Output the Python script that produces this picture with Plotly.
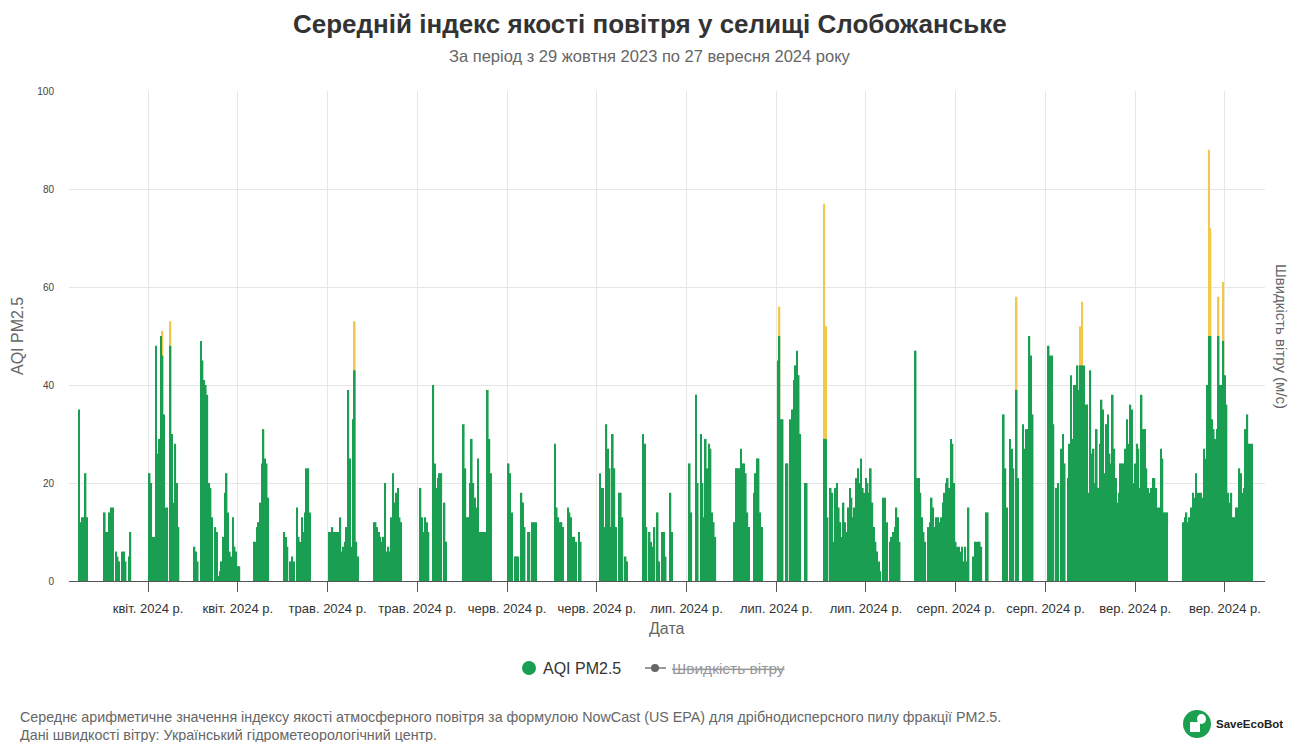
import pandas as pd
import plotly.graph_objects as go

# canvas and plot area (pixels): plot spans x 69..1265, y 91..581
W, H = 1291, 742
L, R, T, B = 69, 26, 91, 161

GREEN = "#1a9f52"
YELLOW = "#f2c84b"
FONT = "Liberation Sans, Arial, sans-serif"
STEP = "6h"

# --- data (AQI PM2.5, 6-hour samples, None = no data) ---
segment_starts = [
    "2024-03-28 06:00", "2024-04-01 06:00", "2024-04-08 06:00", "2024-04-15 06:00",
    "2024-04-16 06:00", "2024-04-24 12:00", "2024-04-29 06:00", "2024-05-06 06:00",
    "2024-05-13 06:00", "2024-05-20 12:00", "2024-05-27 06:00", "2024-06-03 06:00",
    "2024-06-10 12:00", "2024-06-17 12:00", "2024-06-24 06:00", "2024-07-01 12:00",
    "2024-07-08 12:00", "2024-07-15 06:00", "2024-07-22 12:00", "2024-08-05 18:00",
    "2024-08-19 12:00", "2024-08-26 12:00", "2024-09-16 12:00",
]
aqi_by_segment = [
    [35, 12, 13, 13, 22, 13],
    [14, 10, 10, 14, 15, 15, None, 6, 5, 4, None, 6, 6, 4, None, 5, 10],
    [22, 20, 9, 9, 48, 26, 29, 50, 46, 34, 15, 15, None, 48, 30, 16, 28, 20, 11],
    [7, 6, 4],
    [49, 45, 41, 40, 38, 20, 19, 13, None, 11, 10, 1, 2, 4, 9, 18, 22, 14, 6, 5, 13, 7, 6, 3, 3],
    [8, 8, 11, 12, 16, 24, 31, 25, 24, 17],
    [10, 9, 7, None, 4, 5, 4, None, 15, 9, 8, 13, 10, 14, 23, 23, 14],
    [10, 10, 11, 10, 10, 10, 10, 13, 6, 7, 8, 11, 39, 25, 7, 33, 43, 8, 5],
    [12, 12, 11, 10, 9, 8, 9, 20, 6, 7, 6, 13, 22, 16, 18, 19, 13, 12],
    [19, 13, 10, 13, 12, 10, None, None, 40, 24, 19, 21, 22, 22, None, 16, 8],
    [32, 23, 13, 13, 20, 29, 20, 17, 15, 25, 10, 10, 10, 10, 10, 39, 29, 22],
    [24, 22, 14, None, 5, 5, 5, None, 18, 16, 11, None, 10, 10, None, 12, 12, 12],
    [28, 15, 13, 12, 12, 11, None, None, 15, 14, 13, 9, 9, 8, None, 10, 8],
    [22, 19, 19, 11, 32, 27, 23, 11, 30, 23, 11, None, 18, 18, 13, None, 5, 4],
    [30, 28, 11, None, 10, 8, 7, 11, None, 14, 4, None, 10, 10, 5, None, None, 18, 10],
    [24, 14, None, None, 38, 20, None, 30, 20, 13, 29, 23, 28, 27, 14, 12, 9],
    [12, 23, 23, 23, 27, 24, 24, 22, 14, 11, None, None, 18, 22, 25, 25, 14, 11],
    [45, 50, 33, 33, None, 24, 24, None, 33, 35, 41, 44, 47, 42, 30, None, None, 20, 20],
    [29, 29, 13, None, 19, 18, 8, 19, 20, 15, 12, 9, 16, 12, 10, 15, 19, 17, 13, 15,
     21, 23, 20, 25, 19, 18, 21, 20, 18, 23, 16, 11, 8, 6, 4, 2, None, 17, 17, 12,
     None, 8, 9, 10, 11, 15, 13, 8],
    [47, 21, 21, 18, 13, 10, 8, None, 11, 12, 17, 15, 11, 13, 13, 12, 13, 16, 18, 20,
     21, 19, 29, 28, 20, 8, 7, 7, 6, 7, 4, 7, 4, 15, None, None, 5, 8, 8, 8,
     8, 7, None, None, 14, 14],
    [34, 23, 15, None, 29, 27, 23, None, 39, 21, None, None, 32, 27, 31, 31, 50, 46, 34],
    [48, 46, 46, 32, None, 19, 20, None, 27, 30, 24, None, 21, 28, 42, 29, 40, 40, 44, 39,
     44, 44, 44, 36, 36, 18, 43, 26, 27, 20, 31, 19, 28, 37, 35, 22, 32, 34, 26, 24,
     38, 27, 21, 16, 18, 24, 24, 24, 27, 33, 28, 36, 35, 20, 24, 28, 27, 19, 38, 31,
     31, 23, 19, 18, 19, 21, 21, 19, 15, 15, 27, 25, 14, 14, 14],
    [12, 13, 14, 12, 13, 15, 18, 17, 22, 18, 18, 18, 17, 27, 25, 40, 50, 50, 33, 31,
     29, 31, 50, 40, 40, 49, 42, 36, 18, 16, 18, 13, 13, 15, 15, 23, 22, 18, 19, 31,
     34, 28, 28, 28],
]

# samples above 50 (moderate zone) drawn in yellow behind the green bars
peak_dates = [
    "2024-04-10 06:00", "2024-04-11 12:00", "2024-05-10 06:00", "2024-07-15 12:00",
    "2024-07-22 12:00", "2024-07-22 18:00", "2024-08-21 12:00", "2024-08-31 12:00",
    "2024-08-31 18:00", "2024-09-20 12:00", "2024-09-20 18:00", "2024-09-22 00:00",
    "2024-09-22 18:00",
]
peak_values = [51, 53, 53, 56, 77, 52, 58, 52, 57, 88, 72, 58, 61]

tick_dates = ["2024-04-08", "2024-04-22", "2024-05-06", "2024-05-20", "2024-06-03",
              "2024-06-17", "2024-07-01", "2024-07-15", "2024-07-29", "2024-08-12",
              "2024-08-26", "2024-09-09", "2024-09-23"]
tick_labels = ["квіт. 2024 р.", "квіт. 2024 р.", "трав. 2024 р.", "трав. 2024 р.",
               "черв. 2024 р.", "черв. 2024 р.", "лип. 2024 р.", "лип. 2024 р.",
               "лип. 2024 р.", "серп. 2024 р.", "серп. 2024 р.", "вер. 2024 р.",
               "вер. 2024 р."]

x_vals, y_vals = [], []
for start, vals in zip(segment_starts, aqi_by_segment):
    x_vals += list(pd.date_range(start, periods=len(vals), freq=STEP))
    y_vals += vals

bar_w = pd.Timedelta(STEP).total_seconds() * 1000


def px(x):
    return (x - L) / (W - L - R)


def py(y):
    return (H - B - y) / (H - T - B)


fig = go.Figure()
fig.add_trace(go.Bar(
    x=pd.to_datetime(peak_dates), y=peak_values, width=bar_w,
    marker=dict(color=YELLOW, line=dict(width=0)), showlegend=False,
))
fig.add_trace(go.Bar(
    x=x_vals, y=y_vals, width=bar_w, name="AQI PM2.5",
    marker=dict(color=GREEN, line=dict(width=0)), showlegend=False,
))

annotations = [
    dict(x=px(650), y=py(24), text="<b>Середній індекс якості повітря у селищі Слобожанське</b>",
         font=dict(size=26, color="#333333")),
    dict(x=px(650), y=py(56), text="За період з 29 жовтня 2023 по 27 вересня 2024 року",
         font=dict(size=16.5, color="#666666")),
    dict(x=px(667), y=py(628), text="Дата", font=dict(size=16, color="#666666")),
    dict(x=px(17), y=py(336), text="AQI PM2.5", textangle=-90, font=dict(size=16, color="#666666")),
    dict(x=px(1282), y=py(336), text="Швидкість вітру (м/с)", textangle=90,
         font=dict(size=15, color="#666666")),
    dict(x=px(541), y=py(668), text="AQI PM2.5", xanchor="left",
         font=dict(size=16, color="#333333")),
    dict(x=px(670), y=py(668), text="<s>Швидкість вітру</s>", xanchor="left",
         font=dict(size=15.5, color="#999999")),
    dict(x=px(18), y=py(717), xanchor="left",
         text="Середнє арифметичне значення індексу якості атмосферного повітря за формулою "
              "NowCast (US EPA) для дрібнодисперсного пилу фракції PM2.5.",
         font=dict(size=14.3, color="#666666")),
    dict(x=px(18), y=py(735), xanchor="left",
         text="Дані швидкості вітру: Український гідрометеорологічний центр.",
         font=dict(size=14.3, color="#666666")),
    dict(x=px(1214), y=py(724), xanchor="left", text="<b>SaveEcoBot</b>",
         font=dict(size=11.5, color="#222222")),
]
for a in annotations:
    a.setdefault("xref", "paper")
    a.setdefault("yref", "paper")
    a.setdefault("showarrow", False)
    a.setdefault("xanchor", "center")
    a.setdefault("yanchor", "middle")
    a["font"].setdefault("family", FONT)

shapes = [
    # legend markers
    dict(type="circle", x0=px(522), x1=px(536), y0=py(675), y1=py(661),
         fillcolor=GREEN, line=dict(width=0)),
    dict(type="line", x0=px(645), x1=px(666), y0=py(668), y1=py(668),
         line=dict(color="#999999", width=2)),
    dict(type="circle", x0=px(651), x1=px(659), y0=py(672), y1=py(664),
         fillcolor="#666666", line=dict(width=0)),
    # logo badge
    dict(type="circle", x0=px(1183), x1=px(1211), y0=py(738), y1=py(710),
         fillcolor="#1ba04f", line=dict(width=0)),
    dict(type="rect", x0=px(1190), x1=px(1200), y0=py(732), y1=py(722),
         fillcolor="white", line=dict(width=0)),
    dict(type="circle", x0=px(1197), x1=px(1206), y0=py(724), y1=py(714),
         fillcolor="white", line=dict(width=0)),
]
for s in shapes:
    s["xref"] = "paper"
    s["yref"] = "paper"

fig.update_layout(
    width=W, height=H,
    margin=dict(l=L, r=R, t=T, b=B),
    paper_bgcolor="white", plot_bgcolor="white",
    barmode="overlay",
    font=dict(family=FONT),
    annotations=annotations,
    shapes=shapes,
    xaxis=dict(
        type="date",
        range=["2024-03-26 16:00", "2024-09-29 06:00"],
        tickmode="array", tickvals=pd.to_datetime(tick_dates), ticktext=tick_labels,
        showgrid=True, gridcolor="#e6e6e6", gridwidth=1,
        ticks="outside", ticklen=10, tickcolor="#555555", tickwidth=1,
        showline=True, linecolor="#555555", linewidth=1,
        tickfont=dict(size=13, color="#333333"),
        ticklabelstandoff=5,
        automargin=False, zeroline=False,
    ),
    yaxis=dict(
        range=[0, 100], dtick=20, tick0=0,
        showgrid=True, gridcolor="#e6e6e6", gridwidth=1,
        zeroline=False, showline=False,
        tickfont=dict(size=10, color="#444444"),
        ticklabelstandoff=14,
        automargin=False,
    ),
)

# the page body has a default 8px margin; drop it so the figure fills the window
fig.write_html("out.html", config={"displayModeBar": False},
               post_script="document.body.style.margin='0';")
